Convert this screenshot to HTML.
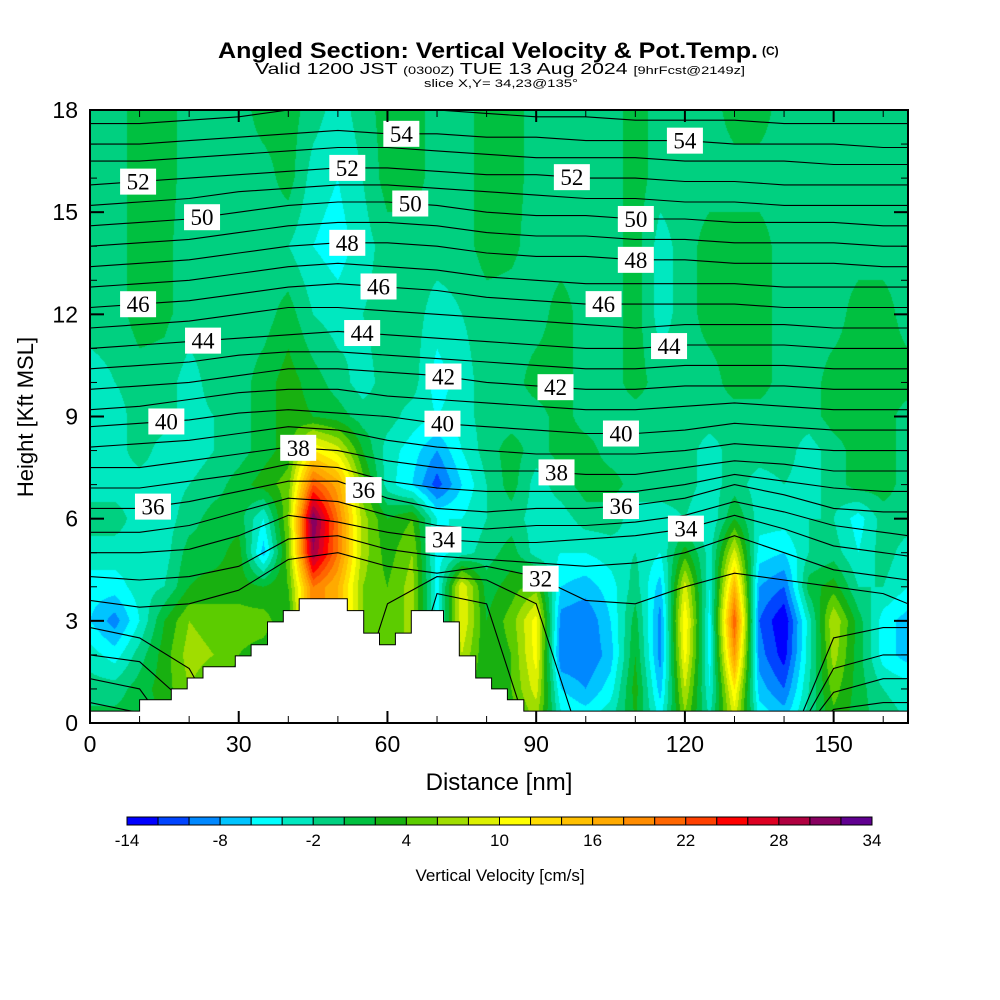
<!DOCTYPE html>
<html><head><meta charset="utf-8"><style>
html,body{margin:0;padding:0;background:#fff;width:1000px;height:1000px;overflow:hidden}
#wrap{position:relative;width:1000px;height:1000px}
canvas{position:absolute;left:90px;top:110px}
svg{position:absolute;left:0;top:0}
text{font-family:"Liberation Sans",sans-serif}
</style></head><body>
<div id="wrap">
<canvas id="cv" width="818" height="613"></canvas>
<svg id="sv" width="1000" height="1000"></svg>
</div>
<script>
// ---- data ----
const gridX = [0,5,10,15,20,25,30,35,40,45,50,55,60,65,70,75,80,85,90,95,100,105,110,115,120,125,130,135,140,145,150,155,160,165];
const gridH = [18,16,14,12,10,9,8,7,6,5,4,3,2,1,0];
const vv18=[-1,-1,1,1,-1,-1,-1,1,1,-1,-3,-1,1,1,-1,-1,1,1,-1,-1,-1,-1,1,-1,-1,-1,1,1,-1,-1,-1,-1,-1,-1];
const vv16=[-1,-1,1,1,-1,-1,-1,-1,1,-3,-4,-2,1,1,-1,-1,1,1,-1,-1,-1,-1,1,-1,-1,-1,-1,-1,-1,-1,-1,-1,-1,-1];
const vv14=[-1,-1,1,0.5,-1,-1,-1,-1,-2,-4,-5,-3,-1,-1,-1,-1,1,0.5,-1,-1,-1,-1,1,-3,-1,1,1,1,-1,-1,-1,-1,-1,-1];
const vv12=[-1,-1,1,0.5,-1,-1,-1,-1,1,-2,-3,-2,-1,-1,-3,-2,-1,-1,-1,1,-1,-1,1,-3,-1,1,1,1,-1,-1,-1,1,1,-1];
const vv10=[-3,-2,-1,-1,-3,-1,-1,1,3,1,-1,-3,-1,-1,-5,-3,-1,-1,1,1,-1,-1,1,-1,-1,-1,1,1,-1,-1,1,1,1,1];
const vv9=[-3,-3,-1,-1,-3,-2,-1,1,3,2,1,-1,-1,-3,-4,-3,-1,-1,-1,1,-1,-1,-1,-1,-1,-1,-1,-1,-1,-1,1,1,1,-1];
const vv8=[-3,-3,-1,-3,-3,-2,-1,1,3,12,9,2,-3,-5,-8,-4,-1,1,-1,1,1,-1,-1,-1,-1,-3,-1,-1,-1,-3,-1,1,1,-1];
const vv7=[-3,-3,-3,-3,-2,-1,1,3,5,22,17,5,-3,-6,-11,-6,-2,1,-3,-1,1,1,-1,-1,-1,-3,-1,-3,-2,-3,-1,1,1,-1];
const vv6=[-1,-1,-3,-3,-1,1,1,-4,6,32,20,7,2,4,-4,-4,-2,-1,-3,-3,-1,-1,-3,-3,-2,-4,2,-3,-3,-2,-2,-5,-1,-1];
const vv5=[-3,-3,-3,-3,1,1,3,-7,5,30,20,7,3,6,-5,-3,-1,1,-3,-4,-4,-3,-2,-4,3,-3,9,-5,-6,-2,-1,-4,-1,-3];
const vv4=[-5,-5,-3,-2,2,3,3,2,4,20,16,6,4,7,-5,10,1,3,5,-6,-7,-5,-1,-7,9,-4,16,-8,-10,1,3,-2,-2,-4];
const vv3=[-6,-9,-4,2,6,5,5,5,2,20,16,6,4,7,-5,10,2,5,11,-9,-10,-6,1,-9,12,-5,22,-10,-14,-3,8,1,-5,-7];
const vv2=[-3,-5,-1,3,7,6,4,3,2,20,16,6,4,7,-5,8,2,4,11,-10,-10,-7,2,-9,11,-5,18,-9,-13,-3,7,1,-5,-7];
const vv1=[-1,-1,1,3,6,4,3,3,3,20,16,6,4,7,-4,4,3,4,9,-6,-8,-5,3,-7,8,-4,12,-7,-10,-2,5,1,-2,-3];
const vv0=[1,1,1,2,3,3,3,3,3,3,3,3,3,3,3,3,3,3,6,-3,-4,-2,2,-4,5,-2,8,-4,-6,-1,3,1,-1,-2];
const vvRows=[vv18,vv16,vv14,vv12,vv10,vv9,vv8,vv7,vv6,vv5,vv4,vv3,vv2,vv1,vv0];
const binColors=["#0000ff","#0044ff","#0088ff","#00c4ff","#00ffff","#00e8c0","#00d080","#00c040","#18b010","#5ccc00","#a0dd00","#dcf000","#ffff00","#ffdd00","#ffc000","#ffaa00","#ff8c00","#ff6600","#ff4000","#ff0000","#dd0022","#b00040","#880060","#600090"];
const cbTicks=[-14,-8,-2,4,10,16,22,28,34];
// isentropes (theta K) heights (kft) at nodes
const thNodes=[0,10,20,30,40,50,60,70,80,90,100,110,120,130,140,150,160,165];
const thLevels=[55,54,53,52,51,50,49,48,47,46,45,44,43,42,41,40,39,38,37,36,35,34,33,32,31,30,29,28];
const th55=[17.6,17.6,17.7,17.8,18.0,18.1,18.1,18.0,17.9,17.8,17.8,17.7,17.7,17.7,17.6,17.6,17.6,17.6];
const th54=[17.0,17.0,17.1,17.2,17.3,17.4,17.3,17.3,17.2,17.2,17.1,17.1,17.1,17.0,17.0,17.0,16.9,16.9];
const th53=[16.5,16.5,16.6,16.7,16.8,16.9,16.9,16.8,16.7,16.6,16.6,16.6,16.5,16.5,16.5,16.4,16.4,16.4];
const th52=[15.8,15.9,16.0,16.1,16.2,16.3,16.3,16.2,16.1,16.1,16.0,16.0,15.9,15.9,15.8,15.8,15.8,15.8];
const th51=[15.2,15.3,15.4,15.6,15.7,15.8,15.8,15.7,15.6,15.5,15.4,15.4,15.3,15.3,15.2,15.2,15.2,15.2];
const th50=[14.6,14.7,14.8,15.0,15.2,15.3,15.3,15.2,15.0,14.9,14.9,14.8,14.8,14.7,14.7,14.7,14.6,14.6];
const th49=[14.0,14.1,14.2,14.4,14.6,14.7,14.7,14.6,14.4,14.3,14.3,14.2,14.2,14.1,14.1,14.1,14.0,14.0];
const th48=[13.4,13.5,13.6,13.8,14.0,14.1,14.1,14.0,13.8,13.7,13.7,13.6,13.6,13.5,13.5,13.5,13.4,13.4];
const th47=[12.8,12.9,13.0,13.2,13.4,13.5,13.4,13.3,13.1,13.0,12.9,12.9,12.9,12.9,12.8,12.8,12.8,12.8];
const th46=[12.2,12.3,12.4,12.6,12.8,12.9,12.8,12.7,12.5,12.4,12.3,12.3,12.3,12.3,12.2,12.2,12.2,12.2];
const th45=[11.6,11.7,11.8,12.0,12.2,12.2,12.1,12.0,11.9,11.8,11.7,11.6,11.7,11.7,11.7,11.6,11.6,11.6];
const th44=[11.0,11.1,11.2,11.3,11.4,11.5,11.4,11.3,11.2,11.1,11.0,11.0,11.1,11.1,11.1,11.0,11.0,11.0];
const th43=[10.4,10.5,10.6,10.8,10.9,10.9,10.8,10.7,10.6,10.5,10.4,10.4,10.5,10.5,10.5,10.4,10.4,10.4];
const th42=[9.8,9.9,10.0,10.2,10.4,10.4,10.3,10.2,10.0,9.9,9.8,9.8,9.9,9.9,9.9,9.8,9.8,9.8];
const th41=[9.2,9.3,9.5,9.7,9.8,9.8,9.6,9.5,9.4,9.3,9.2,9.2,9.3,9.4,9.3,9.2,9.2,9.2];
const th40=[8.7,8.8,8.9,9.1,9.2,9.1,9.0,8.8,8.7,8.6,8.5,8.5,8.6,8.8,8.7,8.6,8.6,8.6];
const th39=[8.1,8.2,8.3,8.5,8.7,8.6,8.3,8.1,8.0,7.9,7.9,7.9,8.0,8.2,8.1,8.0,8.0,8.0];
const th38=[7.5,7.5,7.7,7.9,8.1,8.0,7.7,7.5,7.4,7.4,7.3,7.3,7.5,7.7,7.6,7.4,7.4,7.4];
const th37=[6.9,6.9,7.1,7.3,7.6,7.5,7.1,6.9,6.8,6.8,6.8,6.8,7.0,7.3,7.1,6.9,6.8,6.8];
const th36=[6.3,6.3,6.5,6.8,7.1,7.1,6.6,6.3,6.2,6.3,6.3,6.4,6.6,7.0,6.7,6.3,6.2,6.2];
const th35=[5.6,5.6,5.8,6.2,6.6,6.5,6.1,5.8,5.7,5.8,5.8,5.9,6.1,6.5,6.2,5.8,5.6,5.5];
const th34=[5.0,5.0,5.1,5.5,6.1,5.9,5.6,5.4,5.3,5.3,5.4,5.5,5.7,6.1,5.7,5.2,5.0,4.9];
const th33=[4.3,4.2,4.3,4.6,5.4,5.5,5.1,4.9,4.8,4.7,4.6,4.7,5.0,5.5,5.0,4.5,4.3,4.2];
const th32=[3.6,3.4,3.5,3.9,4.8,5.0,4.6,4.4,4.6,4.3,3.6,3.5,4.0,4.4,4.2,4.0,3.8,3.5];
const th31=[2.8,2.5,1.6,-1,-1,-1,3.5,4.3,4.2,3.5,-1,-1,-1,-1,-1,2.5,2.8,2.8];
const th30=[2.0,1.8,0.5,-1,-1,-1,-1,3.8,3.5,-1,-1,-1,-1,-1,-1,1.6,2.0,2.0];
const th29=[1.3,1.0,-1,-1,-1,-1,-1,-1,-1,-1,-1,-1,-1,-1,-1,0.9,1.3,1.3];
const th28=[0.6,0.3,-1,-1,-1,-1,-1,-1,-1,-1,-1,-1,-1,-1,-1,0.4,0.6,0.6];
const thRows=[th55,th54,th53,th52,th51,th50,th49,th48,th47,th46,th45,th44,th43,th42,th41,th40,th39,th38,th37,th36,th35,th34,th33,th32,th31,th30,th29,th28];
const labelLevels=[52,50,46,44,40,36,54,52,50,48,46,44,42,40,38,36,34,32,54,52,50,48,46,44,42,40,38,36,34];
const labelDist=[9.7,22.6,9.7,22.8,15.4,12.7,62.8,51.9,64.6,51.9,58.2,54.9,71.3,71.1,42,55.2,71.3,90.9,120,97.2,110.1,110.1,103.6,116.8,93.9,107.1,94.1,107.1,120.2];
const terrEdges=[0,10,16.4,19.6,22.8,29.3,32.5,35.8,39,42.2,51.9,55.2,58.4,61.6,64.8,71.3,74.5,77.8,81,84.2,87.5,165];
const terrH=[0.35,0.68,1.0,1.32,1.65,1.97,2.3,2.97,3.3,3.65,3.3,2.64,2.3,2.64,3.3,2.97,1.97,1.32,1.0,0.68,0.35];
const xTicks=[0,30,60,90,120,150];
const yTicks=[0,3,6,9,12,15,18];

// ---- axes ----
const PX0=90,PX1=908,PY0=110,PY1=723;
const X=d=>PX0+d*(PX1-PX0)/165;
const Y=h=>PY1-h*(PY1-PY0)/18;
const NS="http://www.w3.org/2000/svg";
const sv=document.getElementById('sv');
function mk(tag,attrs,parent){const e=document.createElementNS(NS,tag);for(const k in attrs)e.setAttribute(k,attrs[k]);(parent||sv).appendChild(e);return e;}

// ---- field ----
function interpRow(row,d){
  let i=Math.min(gridX.length-2,Math.max(0,Math.floor(d/5)));
  const t=(d-gridX[i])/(gridX[i+1]-gridX[i]);
  return row[i]*(1-t)+row[i+1]*t;
}
function vAt(d,h){
  let j=0;while(j<gridH.length-2&&h<gridH[j+1])j++;
  const t=(gridH[j]-h)/(gridH[j]-gridH[j+1]);
  return interpRow(vvRows[j],d)*(1-t)+interpRow(vvRows[j+1],d)*t;
}
function hex(c){return [parseInt(c.substr(1,2),16),parseInt(c.substr(3,2),16),parseInt(c.substr(5,2),16)];}
const rgb=binColors.map(hex);
const cv=document.getElementById('cv'),ctx=cv.getContext('2d');
const W=818,H=613,img=ctx.createImageData(W,H);
for(let py=0;py<H;py++){const h=18*(1-(py+0.5)/H);
  for(let px=0;px<W;px++){const d=165*(px+0.5)/W;
    const v=vAt(d,h);let b=Math.floor((v+14)/2);b=Math.max(0,Math.min(23,b));
    const c=rgb[b],k=(py*W+px)*4;img.data[k]=c[0];img.data[k+1]=c[1];img.data[k+2]=c[2];img.data[k+3]=255;}}
ctx.putImageData(img,0,0);

// ---- isentropes ----
const defs=mk('defs',{});
const cp=mk('clipPath',{id:'pc'},defs);mk('rect',{x:PX0,y:PY0,width:PX1-PX0,height:PY1-PY0},cp);
const gL=mk('g',{'clip-path':'url(#pc)'});


function thAt(row,d){let i=0;while(i<thNodes.length-2&&d>thNodes[i+1])i++;const t=(d-thNodes[i])/(thNodes[i+1]-thNodes[i]);return row[i]*(1-t)+row[i+1]*t;}
thRows.forEach((row,li)=>{
  let p='';thNodes.forEach((d,i)=>{p+=(i?'L':'M')+X(d).toFixed(1)+','+Y(row[i]).toFixed(1);});
  const e=mk('path',{d:p,fill:'none',stroke:'#000','stroke-width':1.1},gL);
  
  
});

// ---- terrain ----
let tp='M'+X(0)+','+Y(-1);
terrH.forEach((h,i)=>{tp+='L'+X(terrEdges[i]).toFixed(1)+','+Y(h).toFixed(1)+'L'+X(terrEdges[i+1]).toFixed(1)+','+Y(h).toFixed(1);});
tp+='L'+X(165)+','+Y(-1)+'Z';
const ter=mk('path',{d:tp,fill:'#fff',stroke:'#000','stroke-width':1,'clip-path':'url(#pc)'});



// ---- isentrope labels ----
labelLevels.forEach((lv,i)=>{
  const row=thRows[thLevels.indexOf(lv)];const d=labelDist[i];
  const cx=X(d),cy=Y(thAt(row,d));
  const g=mk('g',{});
  
  
  mk('rect',{x:cx-18,y:cy-13,width:36,height:26,fill:'#fff'},g);
  const t=mk('text',{x:cx,y:cy+8,'text-anchor':'middle','font-size':23,style:'font-family:"Liberation Serif",serif'},g);t.textContent=lv;
});

// ---- frame & ticks ----
const frame=mk('rect',{x:PX0,y:PY0,width:PX1-PX0,height:PY1-PY0,fill:'none',stroke:'#000','stroke-width':2});


for(let d=0;d<=165;d+=10){const maj=d%30===0;const L=maj?12:7;
  mk('line',{x1:X(d),y1:PY1,x2:X(d),y2:PY1-L,stroke:'#000','stroke-width':maj?2:1});
  mk('line',{x1:X(d),y1:PY0,x2:X(d),y2:PY0+L,stroke:'#000','stroke-width':maj?2:1});}
for(let h=0;h<=18;h++){const maj=h%3===0;const L=maj?14:7;
  mk('line',{x1:PX0,y1:Y(h),x2:PX0+L,y2:Y(h),stroke:'#000','stroke-width':maj?2:1});
  mk('line',{x1:PX1,y1:Y(h),x2:PX1-L,y2:Y(h),stroke:'#000','stroke-width':maj?2:1});}
xTicks.forEach(d=>{const t=mk('text',{x:X(d),y:752,'text-anchor':'middle','font-size':23});t.textContent=d;
  
  });
yTicks.forEach(h=>{const t=mk('text',{x:78,y:Y(h)+8,'text-anchor':'end','font-size':23});t.textContent=h;
  
  });

// ---- colorbar ----
const CB0=127,CB1=872,cw=(CB1-CB0)/24;
binColors.forEach((c,i)=>{const r=mk('rect',{x:CB0+i*cw,y:817,width:cw,height:8,fill:c,stroke:'#000','stroke-width':1});
  
  });
cbTicks.forEach(v=>{const t=mk('text',{x:CB0+(v+14)/2*cw,y:846,'text-anchor':'middle','font-size':17});t.textContent=v;
  
  });
</script>
<svg width="1000" height="1000" style="position:absolute;left:0;top:0;pointer-events:none">
<text x="218" y="58" font-size="22" font-weight="bold" textLength="540" lengthAdjust="spacingAndGlyphs">Angled Section: Vertical Velocity &amp; Pot.Temp.</text>
<text x="762" y="55" font-size="12" font-weight="bold">(C)</text>
<text x="255" y="74" font-size="16" textLength="490" lengthAdjust="spacingAndGlyphs">Valid 1200 JST <tspan font-size="11">(0300Z)</tspan> TUE 13 Aug 2024 <tspan font-size="11">[9hrFcst@2149z]</tspan></text>
<text x="424" y="87" font-size="11" textLength="154" lengthAdjust="spacingAndGlyphs">slice X,Y= 34,23@135°</text>
<text x="499" y="790" text-anchor="middle" font-size="24">Distance [nm]</text>
<text x="33" y="417" text-anchor="middle" font-size="22" transform="rotate(-90 33 417)">Height [Kft MSL]</text>
<text x="500" y="881" text-anchor="middle" font-size="17">Vertical Velocity [cm/s]</text>
</svg>
</body></html>
